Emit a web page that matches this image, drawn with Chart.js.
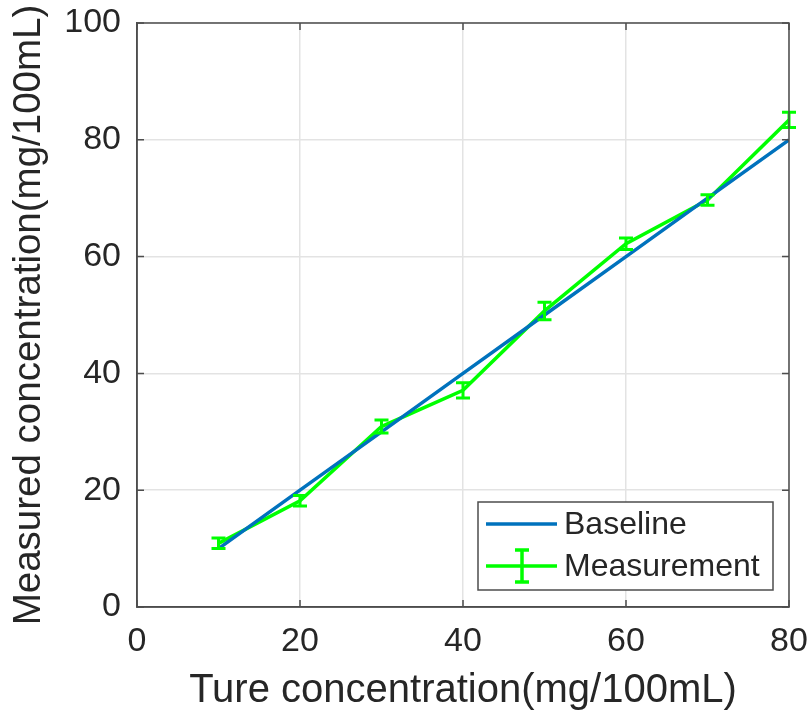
<!DOCTYPE html>
<html>
<head>
<meta charset="utf-8">
<script src="https://cdn.jsdelivr.net/npm/chart.js@4.4.1/dist/chart.umd.min.js"></script>
<style>
  html, body { margin: 0; padding: 0; background: #fff; }
  #chart { display: block; }
</style>
</head>
<body>
<canvas id="chart" width="811" height="715"></canvas>
<script>
/* Measured vs true concentration, MATLAB-style errorbar plot */

const trueConc = [10, 20, 30, 40, 50, 60, 70, 80];
const baseline = [10, 20, 30, 40, 50, 60, 70, 80];
const measured = [10.9, 18.2, 30.9, 37.1, 50.7, 62.2, 69.7, 83.4];
const measErr = [0.9, 0.9, 1.1, 1.3, 1.5, 1.0, 0.9, 1.3];
const seriesNames = ['Baseline', 'Measurement'];
const xTicks = [0, 20, 40, 60, 80];
const yTicks = [0, 20, 40, 60, 80, 100];
const xTitle = 'Ture concentration(mg/100mL)';
const yTitle = 'Measured concentration(mg/100mL)';

const COLORS = {
  baseline: '#0072BD',
  measure: '#00FF00',
  text: '#262626',
  axis: '#4d4d4d',
  grid: '#e3e3e3',
};

const FONT = 'Liberation Sans, Arial, sans-serif';

const toPoints = (xs, ys) => xs.map((x, i) => ({ x, y: ys[i] }));

// keep the plot box where the layout padding puts it
function noOverhang(s) {
  s.paddingTop = 0; s.paddingBottom = 0;
  s.paddingLeft = 0; s.paddingRight = 0;
}

// axis box, inner tick marks, error bars, legend
const matlabPlugin = {
  id: 'matlabLook',
  afterDatasetsDraw(chart) {
    const { ctx, chartArea: a, scales: { x, y } } = chart;
    ctx.save();

    // error bars for measurement
    ctx.strokeStyle = COLORS.measure;
    ctx.lineWidth = 3;
    const cap = 7;
    measured.forEach((m, i) => {
      const px = x.getPixelForValue(trueConc[i]);
      const top = y.getPixelForValue(m + measErr[i]);
      const bot = y.getPixelForValue(m - measErr[i]);
      ctx.beginPath();
      ctx.moveTo(px, top); ctx.lineTo(px, bot);
      ctx.moveTo(px - cap, top); ctx.lineTo(px + cap, top);
      ctx.moveTo(px - cap, bot); ctx.lineTo(px + cap, bot);
      ctx.stroke();
    });

    // box
    ctx.strokeStyle = COLORS.axis;
    ctx.lineWidth = 1.5;
    ctx.strokeRect(a.left, a.top, a.right - a.left, a.bottom - a.top);

    // inner ticks
    const tl = 7;
    ctx.beginPath();
    xTicks.forEach(v => {
      const px = x.getPixelForValue(v);
      ctx.moveTo(px, a.bottom); ctx.lineTo(px, a.bottom - tl);
      ctx.moveTo(px, a.top); ctx.lineTo(px, a.top + tl);
    });
    yTicks.forEach(v => {
      const py = y.getPixelForValue(v);
      ctx.moveTo(a.left, py); ctx.lineTo(a.left + tl, py);
      ctx.moveTo(a.right, py); ctx.lineTo(a.right - tl, py);
    });
    ctx.stroke();

    // legend box
    const lg = { left: 478, top: 502, right: 773, bottom: 590 };
    ctx.fillStyle = '#fff';
    ctx.fillRect(lg.left, lg.top, lg.right - lg.left, lg.bottom - lg.top);
    ctx.strokeStyle = COLORS.axis;
    ctx.lineWidth = 1.5;
    ctx.strokeRect(lg.left, lg.top, lg.right - lg.left, lg.bottom - lg.top);

    const rows = [524, 566];
    ctx.lineWidth = 3.5;
    ctx.strokeStyle = COLORS.baseline;
    ctx.beginPath();
    ctx.moveTo(486, rows[0]); ctx.lineTo(557, rows[0]);
    ctx.stroke();

    ctx.strokeStyle = COLORS.measure;
    ctx.beginPath();
    ctx.moveTo(486, rows[1]); ctx.lineTo(557, rows[1]);
    ctx.moveTo(522, rows[1] - 16); ctx.lineTo(522, rows[1] + 16);
    ctx.moveTo(515, rows[1] - 16); ctx.lineTo(529, rows[1] - 16);
    ctx.moveTo(515, rows[1] + 16); ctx.lineTo(529, rows[1] + 16);
    ctx.stroke();

    ctx.fillStyle = COLORS.text;
    ctx.font = '32px ' + FONT;
    ctx.textBaseline = 'middle';
    ctx.textAlign = 'left';
    seriesNames.forEach((name, i) => ctx.fillText(name, 564, rows[i] + 1));

    ctx.restore();
  },
};

const ctx = document.getElementById('chart').getContext('2d');

new Chart(ctx, {
  type: 'line',
  data: {
    datasets: [
      {
        label: seriesNames[0],
        data: toPoints(trueConc, baseline),
        borderColor: COLORS.baseline,
        borderWidth: 3.5,
        pointRadius: 0,
        tension: 0,
      },
      {
        label: seriesNames[1],
        data: toPoints(trueConc, measured),
        borderColor: COLORS.measure,
        borderWidth: 3.5,
        pointRadius: 0,
        tension: 0,
      },
    ],
  },
  options: {
    responsive: false,
    animation: false,
    layout: { padding: { top: 23, right: 22, left: 0, bottom: 0 } },
    plugins: {
      legend: { display: false },
      tooltip: { enabled: false },
    },
    scales: {
      x: {
        type: 'linear',
        min: 0,
        max: 80,
        afterFit: s => { s.height = 108; noOverhang(s); },
        afterBuildTicks: s => { s.ticks = xTicks.map(v => ({ value: v })); },
        grid: { color: COLORS.grid, lineWidth: 1.5, drawTicks: false },
        border: { display: true, color: COLORS.axis, width: 1.5 },
        ticks: {
          padding: 14,
          color: COLORS.text,
          font: { family: FONT, size: 34 },
          maxRotation: 0,
          autoSkip: false,
        },
        title: {
          display: true,
          text: xTitle,
          color: COLORS.text,
          font: { family: FONT, size: 40 },
          padding: { top: 0, bottom: 0 },
        },
      },
      y: {
        type: 'linear',
        min: 0,
        max: 100,
        afterFit: s => { s.width = 137; noOverhang(s); },
        afterBuildTicks: s => { s.ticks = yTicks.map(v => ({ value: v })); },
        grid: { color: COLORS.grid, lineWidth: 1.5, drawTicks: false },
        border: { display: true, color: COLORS.axis, width: 1.5 },
        ticks: {
          padding: 16,
          color: COLORS.text,
          font: { family: FONT, size: 34 },
          autoSkip: false,
        },
        title: {
          display: true,
          text: yTitle,
          color: COLORS.text,
          font: { family: FONT, size: 38.5 },
          padding: { top: 6, bottom: 0 },
        },
      },
    },
  },
  plugins: [matlabPlugin],
});
</script>
</body>
</html>
